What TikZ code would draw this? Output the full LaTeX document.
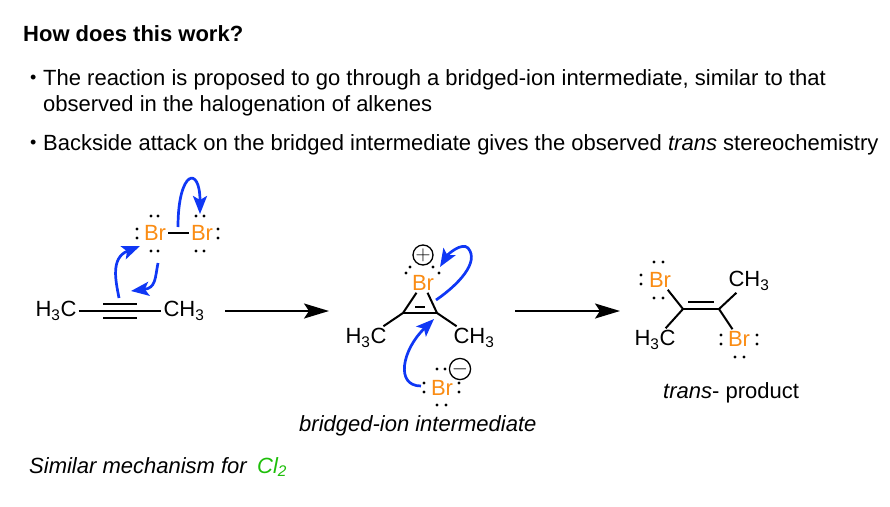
\documentclass[tikz,border=0pt]{standalone}
\usepackage{fontspec}
\setmainfont{Liberation Sans}
\usetikzlibrary{arrows.meta}
\definecolor{bromine}{RGB}{250,140,20}
\definecolor{pushblue}{RGB}{15,55,245}
\definecolor{chlorine}{RGB}{30,190,10}
\newcommand{\pxfont}[1]{\fontsize{#1}{25.5}\selectfont}
\newcommand{\lonedot}[2]{\fill (#1,#2) circle (1.6);}
\tikzstyle{label} = [anchor=base west, inner sep=0pt, font=\pxfont{22}]
\tikzstyle{group} = [inner sep=2pt, font=\pxfont{22}]
\tikzstyle{atom} = [group, text=bromine]
\tikzstyle{charge} = [draw, circle, line width=1.3pt, minimum size=20pt, inner sep=0pt, font=\pxfont{22}]
\tikzstyle{bond} = [line width=2pt]
\tikzstyle{reaction} = [line width=2pt, -{Stealth[length=25pt,width=15pt,inset=5pt]}]
\tikzstyle{push} = [line width=2.7pt, pushblue, -{Stealth[length=18pt,width=14pt,inset=4pt]}]

\begin{document}
\begin{tikzpicture}[x=1pt, y=-1pt]
\useasboundingbox (0,0) rectangle (890,506);

% heading and bullets
\node [label, font=\pxfont{22}\bfseries] (title) at (23,41) {How does this work?};
\node [label, font=\pxfont{18}] (bulleta) at (30,83.5) {•};
\node [label, align=left] (pointa) at (43,111) {The reaction is proposed to go through a bridged-ion intermediate, similar to that\\observed in the halogenation of alkenes};
\node [label, font=\pxfont{18}] (bulletb) at (30,148) {•};
\node [label] (pointb) at (43,150) {Backside attack on the bridged intermediate gives the observed \textit{trans} stereochemistry};

% alkyne and Br2
\node [group] (me1) at (56,311) {H\textsubscript{3}C};
\node [group] (me2) at (184,311) {CH\textsubscript{3}};
\coordinate (ca) at (103,311);
\coordinate (cb) at (137,311);
\draw [bond] (me1) -- (ca);
\draw [bond] (cb) -- (me2);
\draw [bond] (ca) -- (cb);
\draw [bond] ([yshift=7.5pt]ca) -- ([yshift=7.5pt]cb);
\draw [bond] ([yshift=-6.5pt]ca) -- ([yshift=-6.5pt]cb);
\node [atom] (bra) at (155,233) {Br};
\node [atom] (brb) at (202,233) {Br};
\draw [bond] (bra) -- (brb);
\lonedot{151}{216} \lonedot{158}{216}
\lonedot{151}{251} \lonedot{158}{251}
\lonedot{137}{229} \lonedot{137}{238}
\lonedot{196}{216} \lonedot{204}{216}
\lonedot{196}{251} \lonedot{204}{251}
\lonedot{218}{229} \lonedot{218}{238}

\coordinate (pia) at (119,298);
\coordinate (pib) at (131,291);
\coordinate (lpa) at (158,263);
\coordinate (sigma) at (178,227);
\coordinate (lpb) at (200,214);
\coordinate (lpc) at (140,246);
\draw [push] (pia) .. controls (116,282) and (110,258) .. (lpc);
\draw [push] (lpa) .. controls (155,278) and (156,288) .. (pib);
\draw [push] (sigma) .. controls (178,170) and (200,165) .. (lpb);

\coordinate (arrowa) at (225,311);
\coordinate (arrowb) at (329,311);
\draw [reaction] (arrowa) -- (arrowb);

% bridged ion
\node [atom] (brc) at (423,283) {Br};
\node [charge] (plus) at (423,255) {$+$};
\lonedot{406}{273} \lonedot{410}{267}
\lonedot{433}{267} \lonedot{439}{273}
\coordinate (cc) at (403,313);
\coordinate (cd) at (437,313);
\node [group] (me3) at (366,338) {H\textsubscript{3}C};
\node [group] (me4) at (474,338) {CH\textsubscript{3}};
\draw [bond] (cc) -- (cd);
\draw [bond] (cc) -- (brc);
\draw [bond] (cd) -- (brc);
\draw [bond] (cc) -- (me3);
\draw [bond] (cd) -- (me4);
\coordinate (ce) at (415,307);
\coordinate (cf) at (425,307);
\draw [bond] (ce) -- (cf);

\node [atom] (brd) at (442,388) {Br};
\node [charge] (minus) at (460,369) {$-$};
\lonedot{437}{369} \lonedot{445}{369}
\lonedot{424}{383} \lonedot{424}{392}
\lonedot{459}{383} \lonedot{459}{392}
\lonedot{437}{405} \lonedot{446}{405}

\coordinate (ringbond) at (436,300);
\coordinate (brlp) at (440,267);
\coordinate (attack) at (421,386);
\coordinate (ringc) at (434,319);
\draw [push] (ringbond) .. controls (458,285) and (480,262) .. (468,248) .. controls (462,242) and (448,254) .. (brlp);
\draw [push] (attack) .. controls (395,386) and (402,350) .. (ringc);

\node [label, font=\pxfont{22}\itshape] (bridged) at (299,431) {bridged-ion intermediate};

\coordinate (arrowc) at (515,311);
\coordinate (arrowd) at (620,311);
\draw [reaction] (arrowc) -- (arrowd);

% product
\node [atom] (bre) at (660,280) {Br};
\lonedot{654}{262} \lonedot{663}{262}
\lonedot{641}{275} \lonedot{641}{284}
\lonedot{654}{298} \lonedot{663}{298}
\node [group] (me5) at (749,281) {CH\textsubscript{3}};
\node [group] (me6) at (655,340) {H\textsubscript{3}C};
\node [atom] (brf) at (739,339) {Br};
\lonedot{721}{335} \lonedot{721}{344}
\lonedot{757}{335} \lonedot{757}{344}
\lonedot{735}{357} \lonedot{744}{357}
\coordinate (cg) at (683,309);
\coordinate (ch) at (719,309);
\draw [bond] (cg) -- (ch);
\draw [bond] (cg) -- (bre);
\draw [bond] (cg) -- (me6);
\draw [bond] (ch) -- (me5);
\draw [bond] (ch) -- (brf);
\coordinate (ci) at (688,302);
\coordinate (cj) at (714,302);
\draw [bond] (ci) -- (cj);

\node [label] (transp) at (663,398) {\textit{trans}- product};

% footer
\node [label, font=\pxfont{22}\itshape] (similar) at (29,473) {Similar mechanism for};
\node [label, font=\pxfont{22}\itshape, text=chlorine] (cltwo) at (257,473) {Cl\textsubscript{2}};

\end{tikzpicture}
\end{document}
